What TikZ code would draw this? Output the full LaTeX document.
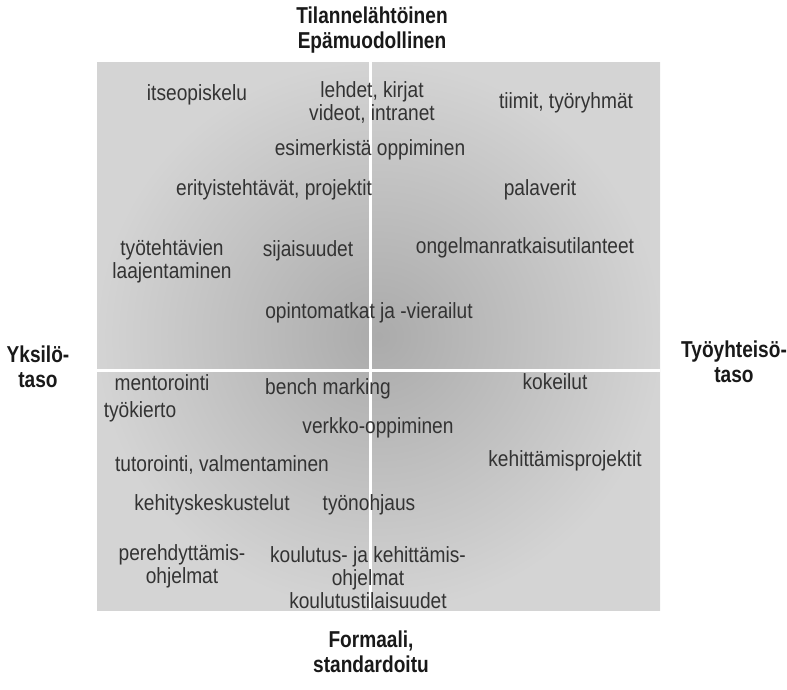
\documentclass[tikz,border=0pt]{standalone}
\usepackage{fontspec}
\setmainfont[FakeStretch=0.87]{Liberation Sans}
\newfontfamily\labelfont[FakeStretch=0.83]{Liberation Sans}
\usepackage{tikz}

\tikzset{
  item/.style={align=center, text=black!80, font=\fontsize{22}{23}\selectfont, inner sep=1pt},
  axislabel/.style={align=center, text=black!90, font=\labelfont\bfseries\fontsize{23}{25}\selectfont, inner sep=1pt}
}

\begin{document}
\begin{tikzpicture}[x=1pt,y=1pt,yscale=-1,xscale=1]
    \useasboundingbox (0,0) rectangle (787,689);

    % Field
    \shade[inner color=black!33, outer color=black!17] (97,62) rectangle (660,610);
    % Axes
    \draw[white, line width=3pt] (370,62) -- (370,610);
    \draw[white, line width=3pt] (97,370) -- (660,370);

    % Axis labels
    \node[axislabel] (top) at (372,30) {Tilannelähtöinen\\Epämuodollinen};
    \node[axislabel] (bottom) at (371,652) {Formaali,\\standardoitu};
    \node[axislabel] (left) at (38,367) {Yksilö-\\taso};
    \node[axislabel] (right) at (734,362) {Työyhteisö-\\taso};

    % Text Node
    \node[item] (itse) at (197,95) {itseopiskelu};
    \node[item] (lehdet) at (372,102) {lehdet, kirjat\\videot, intranet};
    \node[item] (tiimit) at (566,103) {tiimit, työryhmät};
    \node[item] (esim) at (370,150) {esimerkistä oppiminen};
    \node[item] (erit) at (274,190) {erityistehtävät, projektit};
    \node[item] (pala) at (540,190) {palaverit};
    \node[item] (tyot) at (172,261) {työtehtävien\\laajentaminen};
    \node[item] (sija) at (308,251) {sijaisuudet};
    \node[item] (ongel) at (525,248) {ongelmanratkaisutilanteet};
    \node[item] (opinto) at (369,313) {opintomatkat ja -vierailut};

    \node[item] (mento) at (162,383) {mentorointi};
    \node[item] (bench) at (328,389) {bench marking};
    \node[item] (kokei) at (555,382) {kokeilut};
    \node[item] (kierto) at (140,412) {työkierto};
    \node[item] (verkko) at (378,428) {verkko-oppiminen};
    \node[item] (tutor) at (222,465) {tutorointi, valmentaminen};
    \node[item] (kehproj) at (565,461) {kehittämisprojektit};
    \node[item] (kehkesk) at (212,505) {kehityskeskustelut};
    \node[item] (ohjaus) at (369,505) {työnohjaus};
    \node[item] (pere) at (182,566) {perehdyttämis-\\ohjelmat};
    \node[item] (koulut) at (368,578) {koulutus- ja kehittämis-\\ohjelmat\\koulutustilaisuudet};

\end{tikzpicture}
\end{document}
